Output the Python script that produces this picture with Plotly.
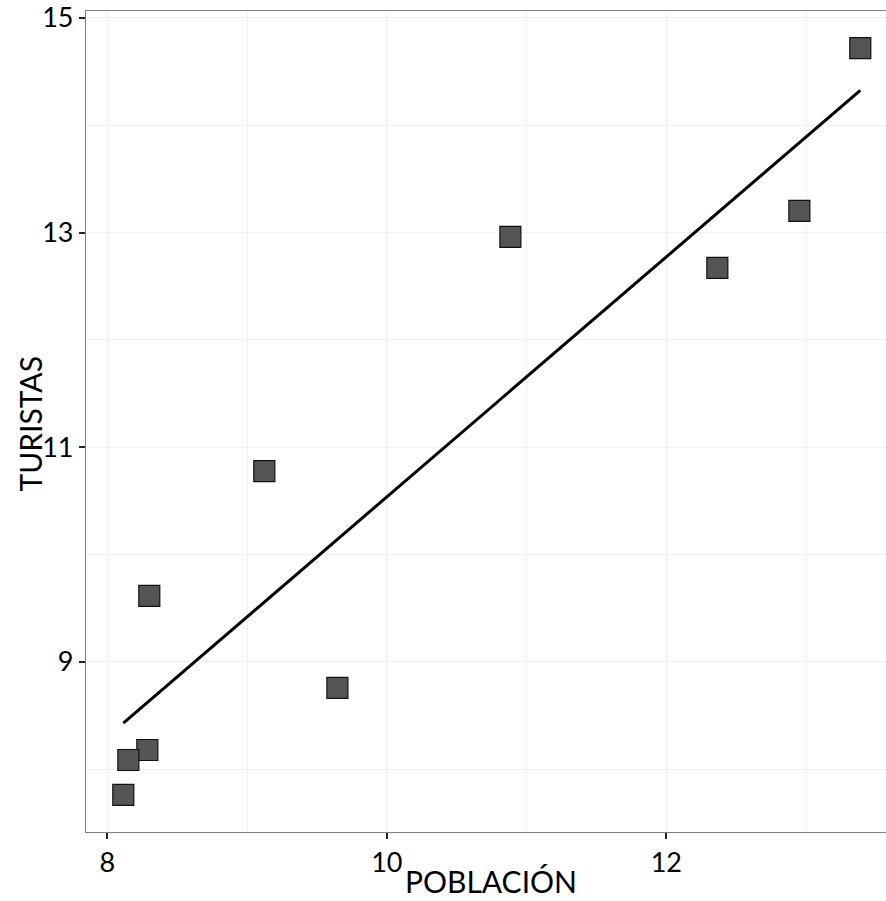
import numpy as np
import plotly.graph_objects as go

poblacion = [13.388, 12.952, 12.365, 10.884, 9.123, 8.300, 9.646, 8.286, 8.150, 8.114]
turistas = [14.72, 13.202, 12.671, 12.960, 10.779, 9.615, 8.758, 8.180, 8.087, 7.761]
x_ticks = [8, 10, 12]
y_ticks = [9, 11, 13, 15]
x_title = "POBLACIÓN"
y_title = "TURISTAS"

slope, intercept = np.polyfit(poblacion, turistas, 1)
x_line = [min(poblacion), max(poblacion)]
y_line = [intercept + slope * v for v in x_line]

FONT = "Lato"

fig = go.Figure()
fig.add_trace(go.Scatter(
    x=poblacion, y=turistas, mode="markers",
    marker=dict(symbol="square", size=21, color="#555555",
                line=dict(color="#111111", width=1.2)),
    showlegend=False, hoverinfo="skip"))
fig.add_trace(go.Scatter(
    x=x_line, y=y_line, mode="lines",
    line=dict(color="black", width=3), showlegend=False, hoverinfo="skip"))

grid = "#F0F0F0"
fig.update_layout(
    width=886, height=901,
    margin=dict(l=86, r=0, t=11, b=69),
    paper_bgcolor="white", plot_bgcolor="white",
    font=dict(family=FONT, color="black"),
    xaxis=dict(
        range=[7.847, 13.572], tickvals=x_ticks, ticktext=[str(v) for v in x_ticks],
        automargin=False,
        showgrid=True, gridcolor=grid, gridwidth=1,
        minor=dict(tickvals=[9, 11, 13], showgrid=True, gridcolor=grid, gridwidth=1, ticks=""),
        showline=True, linecolor="#808080", linewidth=1.2, mirror=True,
        ticks="outside", ticklen=6, tickwidth=1.5, tickcolor="#222222",
        tickfont=dict(size=27, family=FONT, color="black"),
        zeroline=False,
    ),
    yaxis=dict(
        range=[7.416, 15.065], tickvals=y_ticks, ticktext=[str(v) for v in y_ticks],
        automargin=False,
        showgrid=True, gridcolor=grid, gridwidth=1,
        minor=dict(tickvals=[8, 10, 12, 14], showgrid=True, gridcolor=grid, gridwidth=1, ticks=""),
        showline=True, linecolor="#808080", linewidth=1.2, mirror=False,
        ticks="outside", ticklen=6, tickwidth=1.5, tickcolor="#222222",
        tickfont=dict(size=27, family=FONT, color="black"),
        zeroline=False,
    ),
    annotations=[
        dict(text=x_title, xref="paper", yref="paper", x=0.5, y=0,
             xanchor="center", yanchor="middle", xshift=5, yshift=-49,
             showarrow=False, font=dict(size=30, family=FONT, color="black")),
        dict(text=y_title, xref="paper", yref="paper", x=0, y=0.5,
             xanchor="center", yanchor="middle", xshift=-57, yshift=-3,
             textangle=-90, showarrow=False,
             font=dict(size=30, family=FONT, color="black")),
    ],
)

fig.write_html("out.html")
